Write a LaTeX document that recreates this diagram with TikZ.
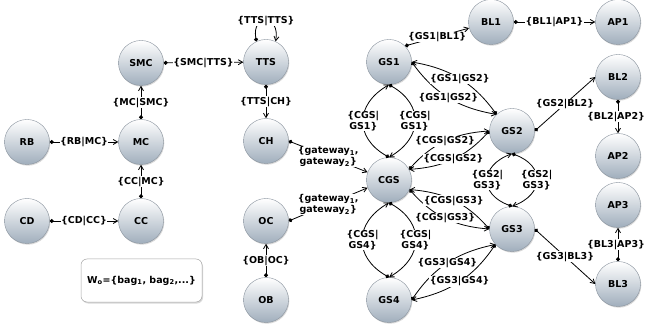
\documentclass[tikz,border=0pt]{standalone}
\usepackage{fontspec}
\setmainfont{DejaVu Sans}
\usepackage{tikz}
\usetikzlibrary{arrows.meta}
\usetikzlibrary{positioning}
\usetikzlibrary{shadows}

\definecolor{ballbot}{RGB}{160,174,188}
\definecolor{ballrim}{RGB}{135,145,156}

\begin{document}
\begin{tikzpicture}[x=1pt, y=1pt, >={Straight Barb[angle=60:5pt]}, line width=0.8pt,
	node distance=79pt, font=\fontsize{9.5}{11}\selectfont\bfseries,
	comp/.style={circle, draw=ballrim, line width=0.4pt, top color=white,
				bottom color=ballbot, minimum size=45pt, inner sep=0pt,
				drop shadow={opacity=0.3, shadow xshift=0.8pt, shadow yshift=-1.2pt}},
	lbl/.style={fill=white, inner sep=0.5pt, align=center},
	link/.style={{Circle[length=4pt]}->},
	bagbox/.style={rectangle, rounded corners=6pt, draw=gray!70, line width=0.5pt,
				fill=white, minimum width=121pt, minimum height=43pt,
				drop shadow={opacity=0.3, shadow xshift=1pt, shadow yshift=-1.5pt}},
]
\useasboundingbox (0,0) rectangle (645,332);
% left part
\node [comp] (MC) at (141,190) {MC};
\node [comp] (SMC) [above of=MC] {SMC};
\node [comp] (CC) [below of=MC] {CC};
\node [comp] (RB) [left of=MC, node distance=114pt] {RB};
\node [comp] (CD) [left of=CC, node distance=114pt] {CD};
\node [bagbox] (W) at (141.5,51.5) {W\textsubscript{o}=\{bag\textsubscript{1}, bag\textsubscript{2},...\}};
\node [comp] (TTS) at (266,270) {TTS};
\node [comp] (CH) [below of=TTS] {CH};
\node [comp] (OC) at (266,111) {OC};
\node [comp] (OB) [below of=OC] {OB};
% gateways
\node [comp] (GS1) at (389,270) {GS1};
\node [comp] (CGS) at (389,152) {CGS};
\node [comp] (GS4) at (389,32) {GS4};
\node [comp] (GS2) at (512,201) {GS2};
\node [comp] (GS3) at (512,103) {GS3};
% right part
\node [comp] (BL1) at (491,310) {BL1};
\node [comp] (AP1) at (618,310) {AP1};
\node [comp] (BL2) at (618,255) {BL2};
\node [comp] (AP2) [below of=BL2] {AP2};
\node [comp] (BL3) at (618,48) {BL3};
\node [comp] (AP3) [above of=BL3] {AP3};
%
\draw [link] (RB) -- node [lbl] {\{RB|MC\}} (MC);
\draw [link] (CD) -- node [lbl] {\{CD|CC\}} (CC);
\draw [link] (MC) -- node [lbl] {\{MC|SMC\}} (SMC);
\draw [link] (CC) -- node [lbl] {\{CC|MC\}} (MC);
\draw [link] (SMC) -- node [lbl] {\{SMC|TTS\}} (TTS);
\draw [link] (TTS.115) .. controls +(100:28) and +(80:28) .. node [lbl] {\{TTS|TTS\}} (TTS.65);
\draw [link] (TTS) -- node [lbl] {\{TTS|CH\}} (CH);
\draw [link] (OB) -- node [lbl] {\{OB|OC\}} (OC);
\draw [link] (CH.east) -- node [lbl] {\{gateway\textsubscript{1},\\gateway\textsubscript{2}\}} (CGS.160);
\draw [link] (OC.east) -- node [lbl] {\{gateway\textsubscript{1},\\gateway\textsubscript{2}\}} (CGS.200);
%
\draw [link] (CGS.north) to[bend left=60, looseness=1.4] node [lbl] {\{CGS|\\GS1\}} (GS1.south);
\draw [link] (GS1.south) to[bend left=60, looseness=1.4] node [lbl] {\{CGS|\\GS1\}} (CGS.north);
\draw [link] (GS4.north) to[bend left=60, looseness=1.4] node [lbl] {\{CGS|\\GS4\}} (CGS.south);
\draw [link] (CGS.south) to[bend left=60, looseness=1.4] node [lbl] {\{CGS|\\GS4\}} (GS4.north);
\draw [link] (GS3.north) to[bend left=70, looseness=1.7] node [lbl] {\{GS2|\\GS3\}} (GS2.south);
\draw [link] (GS2.south) to[bend left=70, looseness=1.7] node [lbl] {\{GS2|\\GS3\}} (GS3.north);
%
\draw [link] (GS1.east) to[bend right=22] node [lbl] {\{GS1|GS2\}} (GS2.133);
\draw [link] (GS2.133) to[bend right=22] node [lbl] {\{GS1|GS2\}} (GS1.east);
\draw [link] (CGS.28) to[bend left=22] node [lbl] {\{CGS|GS2\}} (GS2.west);
\draw [link] (GS2.west) to[bend left=22] node [lbl] {\{CGS|GS2\}} (CGS.28);
\draw [link] (CGS.335) to[bend right=22] node [lbl] {\{CGS|GS3\}} (GS3.west);
\draw [link] (GS3.west) to[bend right=22] node [lbl] {\{CGS|GS3\}} (CGS.335);
\draw [link] (GS4.east) to[bend left=22] node [lbl] {\{GS3|GS4\}} (GS3.223);
\draw [link] (GS3.223) to[bend left=22] node [lbl] {\{GS3|GS4\}} (GS4.east);
%
\draw [link] (GS1.45) -- node [lbl] {\{GS1|BL1\}} (BL1);
\draw [link] (BL1) -- node [lbl] {\{BL1|AP1\}} (AP1);
\draw [link] (GS2.east) -- node [lbl] {\{GS2|BL2\}} (BL2.west);
\draw [link] (BL2) -- node [lbl, xshift=-2pt] {\{BL2|AP2\}} (AP2);
\draw [link] (GS3.east) -- node [lbl] {\{GS3|BL3\}} (BL3.west);
\draw [link] (BL3) -- node [lbl, xshift=-2pt] {\{BL3|AP3\}} (AP3);
\end{tikzpicture}
\end{document}
